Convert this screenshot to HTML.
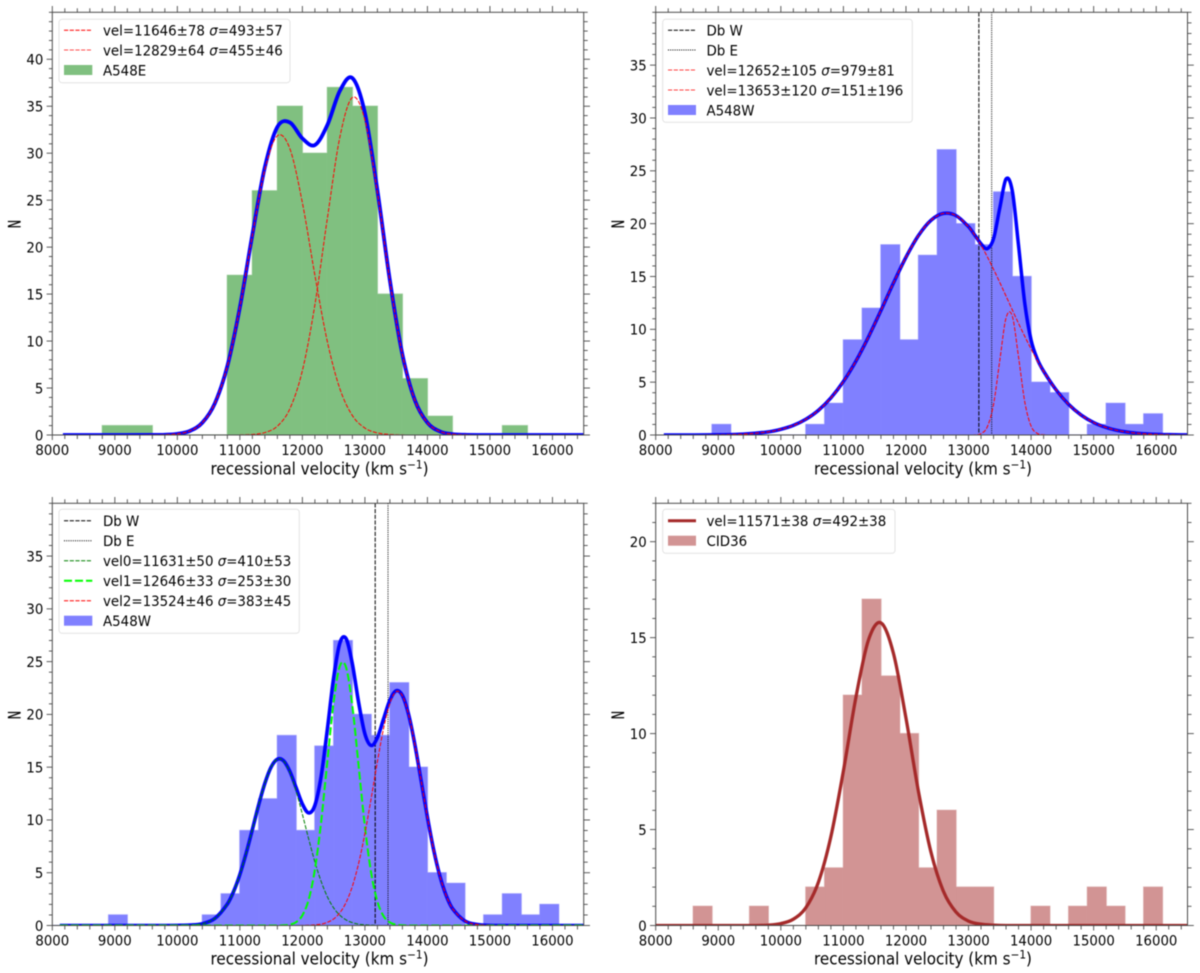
<!DOCTYPE html>
<html lang="en">
<head>
<meta charset="utf-8">
<title>Recessional velocity histograms</title>
<style>
  html, body { margin: 0; padding: 0; background: #fff; }
  svg { display: block; filter: blur(0.45px); font-family: "DejaVu Sans", "Liberation Sans", sans-serif; }
  text { fill: #000; }
  .legend-text { font-size: 14.6px; transform-box: fill-box; transform-origin: 0% 50%; transform: scaleX(.918); }
  .x-title { font-size: 16.5px; transform-box: fill-box; transform-origin: 50% 50%; transform: scaleX(.92); }
  .y-title { font-size: 15px; stroke: #000; stroke-width: .25px; }
  .x-tick-text { font-size: 14.45px; transform-box: fill-box; transform-origin: 50% 50%; transform: scaleX(.92); }
  .y-tick-text { font-size: 14.45px; transform-box: fill-box; transform-origin: 100% 50%; transform: scaleX(.92); }
  .legend-box { fill: #fff; fill-opacity: .8; stroke: #e2e2e2; stroke-width: 1; }
  .spine { fill: none; stroke: #4a4a4a; stroke-width: 1; }
</style>
</head>
<body>
<svg xmlns="http://www.w3.org/2000/svg" width="1200" height="973" viewBox="0 0 1200 973">
  <defs>
    <clipPath id="clip-a"><rect x="52.3" y="12.3" width="531.4" height="422.7"/></clipPath>
    <clipPath id="clip-b"><rect x="655.7" y="12.3" width="531.8" height="422.7"/></clipPath>
    <clipPath id="clip-c"><rect x="52.3" y="503.3" width="531.4" height="422.2"/></clipPath>
    <clipPath id="clip-d"><rect x="655.7" y="503.3" width="531.8" height="422.2"/></clipPath>
  </defs>

  <!-- Panel A548E -->
  <g>
    <g id="marks-a" clip-path="url(#clip-a)"></g>
    <rect class="spine" x="52.3" y="12.3" width="531.4" height="422.7"/>
    <g id="ticks-a"></g>
    <text class="x-title" x="319.5" y="474.5" text-anchor="middle">recessional velocity (km s<tspan dy="-6" font-size="11.5">−1</tspan><tspan dy="6">)</tspan></text>
    <text class="y-title" transform="translate(20.7,224) rotate(-90) scale(.75,1.1)" text-anchor="middle">N</text>
    <g>
      <rect class="legend-box" x="59" y="19.3" width="231" height="63.4" rx="3"/>
      <g>
        <line x1="64" x2="92.3" y1="30.3" y2="30.3" stroke="#ff0000" stroke-width="1" stroke-dasharray="4.2 1.5"/>
        <text class="legend-text" x="103" y="35.6">vel=11646±78 <tspan font-style="italic">σ</tspan>=493±57</text>
      </g>
      <g>
        <line x1="64" x2="92.3" y1="50" y2="50" stroke="#ff0000" stroke-opacity=".7" stroke-width="1" stroke-dasharray="4.2 1.5"/>
        <text class="legend-text" x="103" y="55.3">vel=12829±64 <tspan font-style="italic">σ</tspan>=455±46</text>
      </g>
      <g>
        <rect x="64" y="65" width="28.3" height="10" fill="#80c080"/>
        <text class="legend-text" x="103" y="75.3">A548E</text>
      </g>
    </g>
  </g>

  <!-- Panel A548W two-component -->
  <g>
    <g id="marks-b" clip-path="url(#clip-b)"></g>
    <rect class="spine" x="655.7" y="12.3" width="531.8" height="422.7"/>
    <g id="ticks-b"></g>
    <text class="x-title" x="923" y="474.5" text-anchor="middle">recessional velocity (km s<tspan dy="-6" font-size="11.5">−1</tspan><tspan dy="6">)</tspan></text>
    <text class="y-title" transform="translate(624,224) rotate(-90) scale(.75,1.1)" text-anchor="middle">N</text>
    <g>
      <rect class="legend-box" x="662.7" y="19.3" width="249.6" height="103" rx="3"/>
      <g>
        <line x1="668" x2="696" y1="30.3" y2="30.3" stroke="#000" stroke-width="1" stroke-dasharray="4.2 1.5"/>
        <text class="legend-text" x="706.5" y="35.6">Db W</text>
      </g>
      <g>
        <line x1="668" x2="696" y1="50" y2="50" stroke="#000" stroke-width="1" stroke-dasharray="1 1.2"/>
        <text class="legend-text" x="706.5" y="55.3">Db E</text>
      </g>
      <g>
        <line x1="668" x2="696" y1="70" y2="70" stroke="#ff0000" stroke-opacity=".75" stroke-width="1" stroke-dasharray="4.2 1.5"/>
        <text class="legend-text" x="706.5" y="75.3">vel=12652±105 <tspan font-style="italic">σ</tspan>=979±81</text>
      </g>
      <g>
        <line x1="668" x2="696" y1="90" y2="90" stroke="#ff0000" stroke-opacity=".75" stroke-width="1" stroke-dasharray="4.2 1.5"/>
        <text class="legend-text" x="706.5" y="95.3">vel=13653±120 <tspan font-style="italic">σ</tspan>=151±196</text>
      </g>
      <g>
        <rect x="668" y="105" width="28" height="10" fill="#8080ff"/>
        <text class="legend-text" x="706.5" y="115.3">A548W</text>
      </g>
    </g>
  </g>

  <!-- Panel A548W three-component -->
  <g>
    <g id="marks-c" clip-path="url(#clip-c)"></g>
    <rect class="spine" x="52.3" y="503.3" width="531.4" height="422.2"/>
    <g id="ticks-c"></g>
    <text class="x-title" x="319.5" y="964.5" text-anchor="middle">recessional velocity (km s<tspan dy="-6" font-size="11.5">−1</tspan><tspan dy="6">)</tspan></text>
    <text class="y-title" transform="translate(20.7,715) rotate(-90) scale(.75,1.1)" text-anchor="middle">N</text>
    <g>
      <rect class="legend-box" x="59" y="509.3" width="240.3" height="124" rx="3"/>
      <g>
        <line x1="64" x2="92.3" y1="520.7" y2="520.7" stroke="#000" stroke-width="1" stroke-dasharray="4.2 1.5"/>
        <text class="legend-text" x="103" y="526">Db W</text>
      </g>
      <g>
        <line x1="64" x2="92.3" y1="540.7" y2="540.7" stroke="#000" stroke-width="1" stroke-dasharray="1 1.2"/>
        <text class="legend-text" x="103" y="546">Db E</text>
      </g>
      <g>
        <line x1="64" x2="92.3" y1="560.7" y2="560.7" stroke="#008000" stroke-width="1" stroke-dasharray="4.2 1.5"/>
        <text class="legend-text" x="103" y="566">vel0=11631±50 <tspan font-style="italic">σ</tspan>=410±53</text>
      </g>
      <g>
        <line x1="64" x2="92.3" y1="580.7" y2="580.7" stroke="#00ff00" stroke-width="2" stroke-dasharray="8 3"/>
        <text class="legend-text" x="103" y="586">vel1=12646±33 <tspan font-style="italic">σ</tspan>=253±30</text>
      </g>
      <g>
        <line x1="64" x2="92.3" y1="600.7" y2="600.7" stroke="#ff0000" stroke-width="1" stroke-dasharray="4.2 1.5"/>
        <text class="legend-text" x="103" y="606">vel2=13524±46 <tspan font-style="italic">σ</tspan>=383±45</text>
      </g>
      <g>
        <rect x="64" y="615.7" width="28.3" height="10" fill="#8080ff"/>
        <text class="legend-text" x="103" y="626">A548W</text>
      </g>
    </g>
  </g>

  <!-- Panel CID36 -->
  <g>
    <g id="marks-d" clip-path="url(#clip-d)"></g>
    <rect class="spine" x="655.7" y="503.3" width="531.8" height="422.2"/>
    <g id="ticks-d"></g>
    <text class="x-title" x="923" y="964.5" text-anchor="middle">recessional velocity (km s<tspan dy="-6" font-size="11.5">−1</tspan><tspan dy="6">)</tspan></text>
    <text class="y-title" transform="translate(624,715) rotate(-90) scale(.75,1.1)" text-anchor="middle">N</text>
    <g>
      <rect class="legend-box" x="662.7" y="509.3" width="232.3" height="44" rx="3"/>
      <g>
        <line x1="668" x2="696" y1="520.7" y2="520.7" stroke="#a52a2a" stroke-width="3"/>
        <text class="legend-text" x="706.5" y="526">vel=11571±38 <tspan font-style="italic">σ</tspan>=492±38</text>
      </g>
      <g>
        <rect x="668" y="535.7" width="28" height="10" fill="#d29494"/>
        <text class="legend-text" x="706.5" y="546">CID36</text>
      </g>
    </g>
  </g>
</svg>

<script>
// ---------- Tick labels ----------
const xTickLabels = [8000, 9000, 10000, 11000, 12000, 13000, 14000, 15000, 16000];
const yTicksA = [0, 5, 10, 15, 20, 25, 30, 35, 40];
const yTicksB = [0, 5, 10, 15, 20, 25, 30, 35];
const yTicksC = [0, 5, 10, 15, 20, 25, 30, 35];
const yTicksD = [0, 5, 10, 15, 20];

// ---------- Vertical reference velocities ----------
const dbVelocity = [13165, 13370];

// ---------- Histograms (first bin edge, bin width, counts) ----------
const a548eBinStart = 8800;
const a548eBinWidth = 400;
const a548eCounts = [1, 1, 0, 0, 0, 17, 26, 35, 30, 37, 35, 15, 6, 2, 0, 0, 1];

const a548wPanelBBinStart = 8300;
const a548wPanelBBinWidth = 300;
const a548wPanelBCounts = [0, 0, 1, 0, 0, 0, 0, 1, 3, 9, 12, 18, 9, 17, 27, 20, 18, 23, 15, 5, 4, 0, 1, 3, 1, 2, 0, 0];

const a548wPanelCBinStart = 8000;
const a548wPanelCBinWidth = 300;
const a548wPanelCCounts = [0, 0, 0, 1, 0, 0, 0, 0, 1, 3, 9, 12, 18, 9, 17, 27, 20, 18, 23, 15, 5, 4, 0, 1, 3, 1, 2, 0, 0];

const cid36BinStart = 8000;
const cid36BinWidth = 300;
const cid36Counts = [0, 0, 1, 0, 0, 1, 0, 0, 2, 3, 12, 17, 13, 10, 3, 6, 2, 2, 0, 0, 1, 0, 1, 2, 1, 0, 2, 0, 0];

// ---------- A548E curves ----------
const a548eVelocity = [8170, 9000, 9600, 9800, 10000, 10200, 10400, 10600, 10800, 11000, 11200, 11400, 11600, 11800, 12000, 12200, 12400, 12600, 12800, 13000, 13200, 13400, 13600, 13800, 14000, 14200, 14400, 14600, 14800, 15200, 16500];
const a548eLow = [0, 0, 0.01, 0.03, 0.12, 0.43, 1.31, 3.37, 7.34, 13.57, 21.26, 28.26, 31.86, 30.48, 24.73, 17.02, 9.93, 4.92, 2.07, 0.74, 0.22, 0.06, 0.01, 0, 0, 0, 0, 0, 0, 0, 0];
const a548eHigh = [0, 0, 0, 0, 0, 0, 0, 0, 0, 0.01, 0.06, 0.26, 0.94, 2.79, 6.85, 13.85, 23.08, 31.72, 35.93, 33.55, 25.83, 16.38, 8.56, 3.69, 1.31, 0.38, 0.09, 0.02, 0, 0, 0];
const a548eTotal = [0, 0, 0.01, 0.03, 0.12, 0.43, 1.31, 3.37, 7.34, 13.58, 21.32, 28.52, 32.8, 33.27, 31.58, 30.87, 33.01, 36.64, 38.0, 34.29, 26.05, 16.44, 8.57, 3.69, 1.31, 0.38, 0.09, 0.02, 0, 0, 0];

// ---------- A548W two-component curves ----------
const a548wTwoVelocity = [8130, 8600, 9000, 9400, 9800, 10000, 10200, 10400, 10600, 10800, 11000, 11200, 11400, 11600, 11800, 12000, 12200, 12400, 12600, 12800, 13000, 13100, 13200, 13300, 13400, 13500, 13600, 13700, 13800, 13900, 14000, 14100, 14200, 14400, 14600, 14800, 15000, 15200, 15400, 15600, 15800, 16000, 16200, 16400, 16500];
const a548wTwoBroad = [0, 0, 0.02, 0.08, 0.3, 0.54, 0.91, 1.49, 2.33, 3.51, 5.06, 6.99, 9.27, 11.78, 14.38, 16.82, 18.88, 20.32, 20.97, 20.76, 19.71, 18.91, 17.96, 16.87, 15.68, 14.43, 13.14, 11.84, 10.55, 9.32, 8.14, 7.03, 6.02, 4.27, 2.9, 1.89, 1.18, 0.71, 0.41, 0.23, 0.12, 0.06, 0.03, 0.01, 0.01];
const a548wTwoNarrow = [0, 0, 0, 0, 0, 0, 0, 0, 0, 0, 0, 0, 0, 0, 0, 0, 0, 0, 0, 0, 0, 0.01, 0.13, 0.77, 2.9, 7.07, 11.09, 11.24, 7.35, 3.1, 0.84, 0.15, 0.02, 0, 0, 0, 0, 0, 0, 0, 0, 0, 0, 0, 0];
const a548wTwoTotal = [0, 0, 0.02, 0.08, 0.3, 0.54, 0.91, 1.49, 2.33, 3.51, 5.06, 6.99, 9.27, 11.78, 14.38, 16.82, 18.88, 20.32, 20.97, 20.76, 19.71, 18.92, 18.09, 17.64, 18.58, 21.5, 24.23, 23.08, 17.9, 12.42, 8.98, 7.18, 6.04, 4.27, 2.9, 1.89, 1.18, 0.71, 0.41, 0.23, 0.12, 0.06, 0.03, 0.01, 0.01];

// ---------- A548W three-component curves ----------
const a548wThreeVelocity = [8120, 9000, 9800, 10000, 10200, 10400, 10600, 10800, 10900, 11000, 11100, 11200, 11300, 11400, 11500, 11600, 11700, 11800, 11900, 12000, 12100, 12200, 12300, 12400, 12500, 12600, 12700, 12800, 12900, 13000, 13100, 13200, 13300, 13400, 13500, 13600, 13700, 13800, 13900, 14000, 14100, 14200, 14300, 14400, 14600, 14800, 15000, 15200, 16500];
const a548wThreeVel0 = [0, 0, 0, 0.01, 0.04, 0.17, 0.67, 2.03, 3.22, 4.83, 6.83, 9.09, 11.41, 13.47, 15.01, 15.75, 15.58, 14.51, 12.74, 10.54, 8.22, 6.03, 4.18, 2.72, 1.67, 0.97, 0.53, 0.27, 0.13, 0.06, 0.03, 0.01, 0, 0, 0, 0, 0, 0, 0, 0, 0, 0, 0, 0, 0, 0, 0, 0, 0];
const a548wThreeVel1 = [0, 0, 0, 0, 0, 0, 0, 0, 0, 0, 0, 0, 0, 0, 0, 0, 0.02, 0.09, 0.32, 0.96, 2.43, 5.29, 9.81, 15.58, 21.17, 24.59, 24.44, 20.78, 15.1, 9.39, 5.0, 2.27, 0.88, 0.29, 0.08, 0.02, 0, 0, 0, 0, 0, 0, 0, 0, 0, 0, 0, 0, 0];
const a548wThreeVel2 = [0, 0, 0, 0, 0, 0, 0, 0, 0, 0, 0, 0, 0, 0, 0, 0, 0, 0, 0, 0.01, 0.02, 0.06, 0.13, 0.3, 0.62, 1.21, 2.2, 3.72, 5.89, 8.71, 12.03, 15.52, 18.71, 21.07, 22.16, 21.77, 19.97, 17.12, 13.71, 10.26, 7.16, 4.68, 2.85, 1.62, 0.43, 0.09, 0.01, 0, 0];
const a548wThreeTotal = [0, 0, 0, 0.01, 0.04, 0.17, 0.67, 2.03, 3.22, 4.83, 6.83, 9.09, 11.41, 13.47, 15.01, 15.75, 15.6, 14.6, 13.06, 11.51, 10.67, 11.38, 14.12, 18.6, 23.46, 26.77, 27.17, 24.77, 21.12, 18.16, 17.06, 17.8, 19.59, 21.36, 22.24, 21.79, 19.97, 17.12, 13.71, 10.26, 7.16, 4.68, 2.85, 1.62, 0.43, 0.09, 0.01, 0, 0];

// ---------- CID36 curve ----------
const cid36Velocity = [8000, 9000, 9600, 9800, 10000, 10200, 10400, 10600, 10800, 11000, 11200, 11400, 11600, 11800, 12000, 12200, 12400, 12600, 12800, 13000, 13200, 13400, 13600, 14000, 16500];
const cid36Fit = [0, 0, 0, 0.02, 0.1, 0.33, 0.93, 2.25, 4.63, 8.05, 11.89, 14.87, 15.77, 14.18, 10.81, 6.98, 3.82, 1.77, 0.7, 0.23, 0.07, 0.02, 0, 0, 0];

// ---------- Axes ----------
const SVG_NS = 'http://www.w3.org/2000/svg';
const X_MIN = 8000;
const X_MAX = 16500;
const X_MINOR = 200;
const Y_MINOR = 1;

const frameA = { left: 52.3, right: 583.7, top: 12.3, bottom: 435, yMax: 45 };
const frameB = { left: 655.7, right: 1187.5, top: 12.3, bottom: 435, yMax: 40 };
const frameC = { left: 52.3, right: 583.7, top: 503.3, bottom: 925.5, yMax: 40 };
const frameD = { left: 655.7, right: 1187.5, top: 503.3, bottom: 925.5, yMax: 22 };

function xScale(f, v) {
  return f.left + (v - X_MIN) / (X_MAX - X_MIN) * (f.right - f.left);
}
function yScale(f, n) {
  return f.bottom - n / f.yMax * (f.bottom - f.top);
}

function svgEl(tag) {
  return document.createElementNS(SVG_NS, tag);
}

// Smooth path through the sampled points (cubic Hermite in data space).
function curvePath(f, xs, ys) {
  const tangent = xs.map(function (x, i) {
    const a = Math.max(i - 1, 0);
    const b = Math.min(i + 1, xs.length - 1);
    return (ys[b] - ys[a]) / (xs[b] - xs[a]);
  });
  let d = 'M' + xScale(f, xs[0]).toFixed(2) + ' ' + yScale(f, ys[0]).toFixed(2);
  for (let i = 0; i < xs.length - 1; i++) {
    const h = (xs[i + 1] - xs[i]) / 3;
    const c1x = xScale(f, xs[i] + h);
    const c1y = yScale(f, ys[i] + tangent[i] * h);
    const c2x = xScale(f, xs[i + 1] - h);
    const c2y = yScale(f, ys[i + 1] - tangent[i + 1] * h);
    d += 'C' + c1x.toFixed(2) + ' ' + c1y.toFixed(2) + ' ' + c2x.toFixed(2) + ' ' + c2y.toFixed(2) + ' ' + xScale(f, xs[i + 1]).toFixed(2) + ' ' + yScale(f, ys[i + 1]).toFixed(2);
  }
  return d;
}

function drawBars(group, f, start, width, counts, fill, halo) {
  // Faint step outline underneath the bars
  let d = 'M' + xScale(f, start) + ' ' + f.bottom;
  counts.forEach(function (count, i) {
    d += 'L' + xScale(f, start + i * width) + ' ' + yScale(f, count);
    d += 'L' + xScale(f, start + (i + 1) * width) + ' ' + yScale(f, count);
  });
  d += 'L' + xScale(f, start + counts.length * width) + ' ' + f.bottom;
  const outline = svgEl('path');
  
  
  outline.setAttribute('d', d);
  outline.setAttribute('fill', 'none');
  outline.setAttribute('stroke', halo);
  outline.setAttribute('stroke-width', '1.4');
  group.appendChild(outline);

  counts.forEach(function (count, i) {
    if (count === 0) return;
    const x0 = xScale(f, start + i * width);
    const x1 = xScale(f, start + (i + 1) * width);
    const rect = svgEl('rect');
    
    
    rect.setAttribute('x', x0);
    rect.setAttribute('y', yScale(f, count));
    rect.setAttribute('width', x1 - x0);
    rect.setAttribute('height', f.bottom - yScale(f, count));
    rect.setAttribute('fill', fill);
    rect.setAttribute('stroke', fill);
    rect.setAttribute('stroke-width', '0.4');
    group.appendChild(rect);
  });
}

function drawCurve(group, f, xs, ys, color, width, dash) {
  const path = svgEl('path');
  
  
  path.setAttribute('d', curvePath(f, xs, ys));
  path.setAttribute('fill', 'none');
  path.setAttribute('stroke', color);
  path.setAttribute('stroke-width', width);
  if (dash) path.setAttribute('stroke-dasharray', dash);
  group.appendChild(path);
}

function drawVLine(group, f, velocity, dash) {
  const line = svgEl('line');
  
  
  line.setAttribute('x1', xScale(f, velocity));
  line.setAttribute('x2', xScale(f, velocity));
  line.setAttribute('y1', f.top);
  line.setAttribute('y2', f.bottom);
  line.setAttribute('stroke', '#000');
  line.setAttribute('stroke-width', '1');
  line.setAttribute('stroke-dasharray', dash);
  group.appendChild(line);
}

function tickMark(group, x1, y1, x2, y2) {
  const t = svgEl('line');
  
  
  t.setAttribute('x1', x1);
  t.setAttribute('y1', y1);
  t.setAttribute('x2', x2);
  t.setAttribute('y2', y2);
  t.setAttribute('stroke', '#4a4a4a');
  t.setAttribute('stroke-width', '0.9');
  group.appendChild(t);
}

function drawAxes(group, f, yTicks) {
  // Minor x ticks, bottom and top
  for (let v = X_MIN; v <= X_MAX; v += X_MINOR) {
    if (xTickLabels.indexOf(v) >= 0) continue;
    const x = xScale(f, v);
    tickMark(group, x, f.bottom, x, f.bottom + 4);
    tickMark(group, x, f.top, x, f.top - 4);
  }
  // Minor y ticks, left and right
  for (let n = 0; n <= f.yMax; n += Y_MINOR) {
    if (yTicks.indexOf(n) >= 0) continue;
    const y = yScale(f, n);
    tickMark(group, f.left, y, f.left - 3.4, y);
    tickMark(group, f.right, y, f.right + 4, y);
  }
  // Major x ticks + labels
  xTickLabels.forEach(function (v) {
    const x = xScale(f, v);
    tickMark(group, x, f.bottom, x, f.bottom + 5);
    tickMark(group, x, f.top, x, f.top - 6.3);
    const label = svgEl('text');
    
    
    label.setAttribute('class', 'x-tick-text');
    label.setAttribute('x', x);
    label.setAttribute('y', f.bottom + 20);
    label.setAttribute('text-anchor', 'middle');
    label.textContent = v;
    group.appendChild(label);
  });
  // Major y ticks + labels
  yTicks.forEach(function (n) {
    const y = yScale(f, n);
    tickMark(group, f.left, y, f.left - 5.7, y);
    tickMark(group, f.right, y, f.right + 6.3, y);
    const label = svgEl('text');
    
    
    label.setAttribute('class', 'y-tick-text');
    label.setAttribute('x', f.left - 9);
    label.setAttribute('y', y + 5.3);
    label.setAttribute('text-anchor', 'end');
    label.textContent = n;
    group.appendChild(label);
  });
}

const THIN_DASH = '4.2 1.5';
const DB_DASH = '4.2 1.5';
const DB_DOT = '1 1.2';

// Panel A548E
const marksA = document.getElementById('marks-a');
drawBars(marksA, frameA, a548eBinStart, a548eBinWidth, a548eCounts, '#80c080', '#c4e0c4');
drawCurve(marksA, frameA, a548eVelocity, a548eTotal, '#0000ff', 3.8);
drawCurve(marksA, frameA, a548eVelocity, a548eLow, '#ff0000', 1, THIN_DASH);
drawCurve(marksA, frameA, a548eVelocity, a548eHigh, '#ff0000', 1, THIN_DASH);
drawAxes(document.getElementById('ticks-a'), frameA, yTicksA);

// Panel A548W two-component
const marksB = document.getElementById('marks-b');
drawBars(marksB, frameB, a548wPanelBBinStart, a548wPanelBBinWidth, a548wPanelBCounts, '#8080ff', '#c6c6ff');
drawVLine(marksB, frameB, dbVelocity[0], DB_DASH);
drawVLine(marksB, frameB, dbVelocity[1], DB_DOT);
drawCurve(marksB, frameB, a548wTwoVelocity, a548wTwoTotal, '#0000ff', 3.5);
drawCurve(marksB, frameB, a548wTwoVelocity, a548wTwoBroad, '#ff0000', 1, THIN_DASH);
drawCurve(marksB, frameB, a548wTwoVelocity, a548wTwoNarrow, '#ff0000', 1, THIN_DASH);
drawAxes(document.getElementById('ticks-b'), frameB, yTicksB);

// Panel A548W three-component
const marksC = document.getElementById('marks-c');
drawBars(marksC, frameC, a548wPanelCBinStart, a548wPanelCBinWidth, a548wPanelCCounts, '#8080ff', '#c6c6ff');
drawVLine(marksC, frameC, dbVelocity[0], DB_DASH);
drawVLine(marksC, frameC, dbVelocity[1], DB_DOT);
drawCurve(marksC, frameC, a548wThreeVelocity, a548wThreeTotal, '#0000ff', 3.6);
drawCurve(marksC, frameC, a548wThreeVelocity, a548wThreeVel0, '#008000', 1, THIN_DASH);
drawCurve(marksC, frameC, a548wThreeVelocity, a548wThreeVel1, '#00ff00', 2, '8 3');
drawCurve(marksC, frameC, a548wThreeVelocity, a548wThreeVel2, '#ff0000', 1, THIN_DASH);
drawAxes(document.getElementById('ticks-c'), frameC, yTicksC);

// Panel CID36
const marksD = document.getElementById('marks-d');
drawBars(marksD, frameD, cid36BinStart, cid36BinWidth, cid36Counts, '#d29494', '#e9cccc');
drawCurve(marksD, frameD, cid36Velocity, cid36Fit, '#a52a2a', 3.3);
drawAxes(document.getElementById('ticks-d'), frameD, yTicksD);
</script>
</body>
</html>
